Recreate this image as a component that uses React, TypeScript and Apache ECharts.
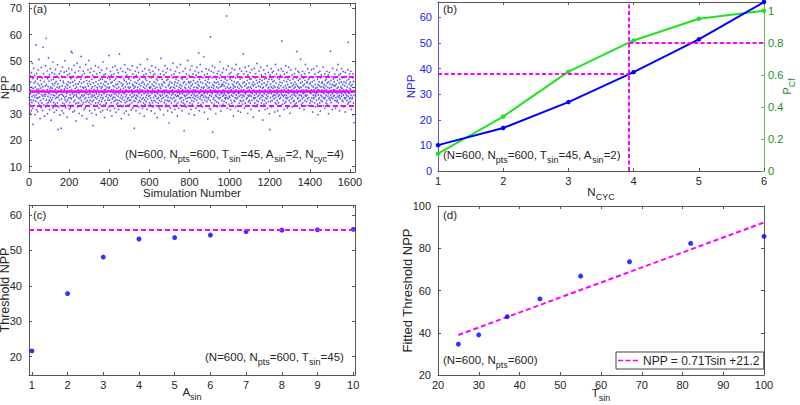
import { useEffect, useRef } from "react";
import * as echarts from "echarts";

// ---------- (a) NPP per simulation ----------
const simNpp1 = [
36.2,41.3,33.7,39.1,44.4,30.2,37.6,42.1,35.3,38.8,31.2,45.7,40.1,34.4,36.6,49.2,38.3,32.1,43.4,26.1,
39.6,35.2,47.3,37.1,41.7,33.2,38.4,44.6,36.3,29.7,40.2,42.3,34.8,38.7,56.1,37.2,45.3,31.6,39.3,35.9,
43.2,38.1,30.8,41.4,36.1,46.7,34.2,39.3,37.8,50.6,33.3,40.7,36.4,44.2,28.3,38.6,42.7,35.1,39.8,32.4,
47.6,37.3,41.2,34.1,38.9,43.6,31.3,36.8,40.3,55.2,35.7,39.1,45.2,33.4,37.3,42.2,29.1,38.2,44.1,36.7,
40.6,32.7,48.2,37.4,58.6,35.3,41.1,38.4,33.8,46.3,39.2,30.1,43.3,36.7,40.4,34.3,51.2,37.8,42.4,35.2,
38.1,44.8,31.7,39.4,36.2,47.1,34.7,40.2,37.3,27.6,42.8,38.7,35.4,45.6,33.1,39.7,41.3,36.1,49.7,32.3,
37.2,43.1,34.3,40.8,38.3,30.6,45.1,36.9,41.6,33.7,39.3,46.8,35.8,38.2,42.3,31.4,37.7,44.3,36.3,40.1,
34.2,48.6,38.4,41.3,24.1,36.3,43.7,32.6,39.8,37.1,45.2,35.3,40.4,29.6,38.8,42.6,33.2,46.1,37.4,24.6,
39.2,35.7,44.3,31.2,40.7,37.3,47.8,34.1,38.2,42.4,36.8,30.3,41.7,38.6,45.8,33.7,39.4,36.2,50.1,35.4,
40.3,43.8,32.2,38.3,36.7,46.2,34.6,41.2,37.7,28.7,39.7,44.7,35.3,40.8,33.2,42.1,38.4,47.2,36.1,31.8];
const simNpp2 = [
38.7,45.2,34.3,40.1,37.2,41.8,32.3,36.1,43.3,53.6,35.7,39.2,46.8,33.3,53.2,37.7,42.1,30.7,38.2,44.3,
36.4,40.7,34.6,48.3,37.1,31.2,42.7,38.1,35.2,45.7,39.6,33.8,41.2,27.3,37.4,43.7,36.8,40.2,34.1,49.2,
38.2,32.6,44.2,36.1,41.3,39.2,46.3,34.2,37.8,30.2,42.2,38.6,35.7,47.7,33.2,40.4,36.3,43.1,39.1,51.7,
35.1,41.6,37.2,29.3,44.7,38.3,33.6,40.1,36.7,46.2,34.3,39.8,42.1,31.7,37.2,45.3,35.6,38.1,43.8,32.2,
40.2,36.1,48.7,34.6,39.3,37.7,42.6,28.2,38.3,44.2,35.1,41.4,33.2,46.7,37.3,40.6,36.2,50.2,34.3,39.1,
42.3,31.2,37.6,45.7,35.2,38.7,41.2,33.7,47.2,36.3,39.6,30.3,43.1,37.2,34.7,40.3,44.6,36.7,25.6,38.1,
41.7,35.2,46.1,33.3,39.2,37.1,43.7,31.6,40.7,36.2,48.2,34.1,38.3,42.2,29.7,37.6,45.2,35.7,40.1,33.2,
39.3,44.1,36.6,41.2,34.2,47.6,38.1,32.2,42.7,37.3,35.1,40.4,45.7,33.6,38.7,43.2,30.7,36.2,41.6,39.7,
34.7,46.6,37.2,40.3,35.6,43.1,31.3,38.2,49.7,36.1,41.2,33.3,44.7,37.6,39.2,28.6,42.3,35.1,40.7,38.2,
45.1,33.7,39.3,36.6,42.2,34.1,47.2,37.3,40.1,31.7,43.6,38.7,35.2,41.3,36.1,44.2,32.6,39.7,52.1,37.2];
const simNpp3 = [
40.2,35.3,43.1,38.7,31.2,46.1,36.7,41.7,34.2,39.1,44.7,37.2,29.2,42.1,35.7,38.3,47.7,33.1,40.7,36.3,
39.2,45.1,34.7,37.6,42.7,32.1,40.3,36.2,48.1,35.2,38.1,43.2,30.6,41.1,37.3,44.1,33.7,39.6,35.3,46.7,
38.3,41.2,34.1,36.7,45.6,31.7,40.1,37.7,42.2,35.1,52.7,38.6,33.2,43.7,36.2,39.3,47.2,34.6,41.7,28.2,
37.1,44.2,35.6,40.7,32.7,38.2,46.1,36.3,41.2,33.1,39.7,43.3,37.6,30.2,42.6,35.2,48.6,38.1,34.2,40.3,
45.7,36.6,39.2,31.1,42.2,37.3,44.6,34.7,38.6,41.3,35.7,47.1,33.3,40.2,36.1,29.7,43.2,38.3,39.6,35.1,
41.6,33.7,46.6,37.2,40.1,35.3,42.7,38.6,31.6,44.2,36.3,39.1,34.2,48.2,37.7,41.1,32.2,45.1,36.6,40.7,
38.2,43.6,35.1,39.7,24.6,37.2,42.1,34.7,40.3,46.2,36.1,38.7,31.2,44.6,35.7,41.6,37.1,33.2,47.6,39.2,
36.7,40.1,34.3,42.7,38.1,45.7,32.7,37.7,41.2,35.1,43.2,30.2,39.3,36.2,48.7,34.6,40.7,38.2,44.1,33.2,
37.2,41.7,35.6,39.1,46.2,32.1,38.7,42.2,36.1,40.2,34.1,44.7,37.6,29.1,41.2,35.3,47.1,39.7,33.6,43.2,
38.1,36.2,45.2,34.7,40.6,37.1,42.7,31.7,39.2,50.7,35.6,41.2,37.7,44.2,33.1,38.6,36.7,46.6,40.1,34.2];
const simNpp4 = [
42.2,37.1,39.7,33.6,45.7,36.1,40.2,38.3,31.1,43.7,35.2,48.2,37.7,41.1,34.2,39.3,46.2,32.6,38.7,44.7,
36.2,40.6,35.1,42.2,38.1,30.2,45.2,37.1,39.7,34.6,47.6,36.7,41.6,33.1,43.2,38.2,40.1,35.7,28.6,42.7,
37.6,44.2,34.1,39.2,36.1,46.7,32.2,41.1,38.7,35.1,43.7,37.2,40.2,31.6,45.1,36.7,39.6,51.1,34.7,38.2,
41.2,35.7,43.1,37.2,33.1,40.7,46.2,38.1,36.2,42.1,29.7,39.1,44.7,34.2,37.7,41.7,35.1,48.2,38.6,32.7,
40.1,36.7,45.7,33.7,39.2,42.7,37.1,35.2,47.2,38.1,31.2,43.1,36.2,40.7,34.7,44.1,38.2,26.6,41.2,37.7,
35.1,42.2,39.7,32.2,46.7,36.1,40.2,38.7,34.1,44.6,37.2,41.7,30.6,39.1,35.7,43.7,37.6,49.2,33.1,40.1,
38.2,45.1,36.2,41.1,34.7,39.7,31.7,42.1,37.2,46.1,35.2,38.7,43.1,33.7,40.6,36.6,47.7,38.1,29.2,41.7,
37.1,34.2,44.1,39.2,36.7,42.6,32.1,40.2,38.1,45.6,35.7,37.6,41.1,33.2,48.7,36.1,39.7,43.6,34.7,38.6,
40.7,36.2,31.2,43.1,37.6,39.2,46.1,34.1,41.7,35.2,38.2,44.1,23.6,37.1,42.2,33.7,40.1,36.7,47.2,39.6,
35.7,41.1,38.1,32.6,45.1,37.2,43.2,34.7,39.1,36.1,50.2,38.7,33.1,42.1,37.6,40.2,30.1,44.6,36.2,41.7];
const simNpp5 = [
38.2,34.1,46.7,39.6,36.1,42.2,31.7,40.7,37.1,44.2,35.1,48.1,38.6,33.7,41.2,37.7,45.1,36.2,39.1,42.6,
34.7,40.1,37.2,29.6,43.7,38.1,35.7,46.2,39.1,41.7,36.7,32.2,44.6,38.2,40.1,35.2,47.7,37.1,33.1,42.2,
39.7,36.2,41.1,34.1,45.7,53.1,37.7,40.6,31.2,43.1,38.2,35.7,48.7,36.6,42.1,39.2,33.6,44.2,37.2,40.1,
35.2,46.1,38.7,32.7,41.6,37.1,43.7,34.2,39.7,36.2,51.6,40.2,37.7,30.6,44.7,38.1,35.2,42.7,36.7,39.1,
41.2,33.1,47.1,38.2,36.1,40.7,34.7,45.2,37.7,42.1,28.1,39.7,35.6,43.1,38.7,36.2,46.7,40.1,32.1,41.7,
37.1,44.2,35.1,39.2,59.1,31.7,38.1,46.2,36.7,40.1,34.2,43.7,37.7,48.2,23.1,41.1,38.7,35.6,45.7,39.7,
36.1,40.7,33.7,42.1,38.2,47.6,35.1,39.1,44.2,37.1,30.1,41.7,36.7,43.1,34.6,40.2,38.1,45.2,32.7,37.6,
42.1,36.2,39.7,34.1,46.2,38.7,41.2,35.7,43.6,37.2,49.7,33.1,40.2,36.1,44.7,38.2,31.1,42.7,37.7,40.6,
35.1,41.2,38.1,45.7,36.7,41.1,33.7,39.1,47.2,37.1,42.2,34.7,40.6,37.6,44.1,38.7,36.1,43.2,35.7,39.7,
41.7,37.1,34.2,46.7,67.1,36.2,42.7,32.1,40.2,38.1,44.2,35.7,48.1,37.7,41.2,33.7,39.6,36.7,45.1,38.2];
const simNpp6 = [
36.1,43.2,38.7,31.7,40.1,45.7,35.1,39.2,37.1,42.7,34.1,47.2,38.1,33.2,41.1,36.7,44.2,39.7,29.2,40.7,
37.7,35.1,42.2,38.1,46.7,34.6,40.2,36.1,43.7,32.7,39.1,48.7,37.2,41.6,35.7,38.6,44.7,33.1,40.2,36.2,
42.1,38.2,31.1,45.2,37.7,39.6,34.1,41.2,36.7,47.1,38.1,43.2,35.1,40.7,30.6,44.1,37.2,39.1,46.2,34.7,
40.1,36.2,43.7,38.6,33.7,41.7,37.2,52.7,35.1,39.2,45.1,36.7,42.1,32.2,38.1,40.6,47.7,34.1,37.6,44.2,
38.1,41.2,35.7,46.1,33.2,39.7,36.1,42.7,38.6,30.2,44.7,37.1,40.1,34.7,48.1,36.6,41.7,39.2,35.1,43.1,
37.2,45.7,34.1,40.2,38.1,31.7,43.2,36.7,39.6,46.7,35.2,41.1,37.7,33.1,44.2,38.6,42.1,28.7,40.7,36.1,
39.1,35.7,47.2,37.1,41.2,34.1,43.7,38.2,36.1,45.2,32.7,40.1,37.6,42.7,35.1,49.1,38.7,33.6,41.7,36.6,
44.1,38.2,34.7,40.6,37.1,46.2,31.2,39.1,42.2,35.7,43.1,37.7,40.2,33.1,47.7,36.2,38.6,44.7,34.1,41.2,
37.1,42.7,35.2,39.7,27.7,44.2,36.7,40.1,38.2,46.6,33.7,41.7,37.6,35.1,43.2,39.1,31.7,45.1,38.7,36.1,
40.7,34.1,43.6,37.2,41.1,35.7,48.2,38.1,32.1,42.2,36.6,39.7,45.7,34.7,40.1,37.7,43.1,30.1,38.7,24.1];
const simNpp7 = [
39.2,44.7,36.1,41.2,34.7,47.1,37.7,40.2,32.6,43.1,38.2,35.1,45.7,36.6,42.2,39.7,33.1,46.2,37.1,40.7,
35.7,42.6,38.1,30.7,44.2,37.2,40.1,34.1,48.7,36.2,41.7,38.7,33.7,45.1,37.6,39.2,35.1,43.7,31.2,40.2,
38.1,36.7,46.6,34.2,41.1,39.7,37.2,43.1,35.7,29.2,42.1,38.7,44.6,36.1,40.7,33.2,47.1,37.7,39.1,57.6,
41.7,37.1,44.1,33.7,38.6,46.2,35.1,40.1,36.7,42.6,31.7,39.2,45.1,37.2,34.1,43.7,38.2,40.7,36.1,48.2,
34.7,39.7,37.1,42.2,35.7,45.7,38.1,32.2,41.1,36.2,43.1,39.2,33.1,47.7,37.7,40.2,35.1,44.2,38.7,30.2,
42.7,36.6,40.1,34.2,46.7,38.2,41.7,35.6,39.1,37.2,44.7,32.7,40.6,36.1,43.2,38.7,38.1,34.7,41.1,37.6,
39.7,35.1,45.2,37.1,42.1,33.7,40.2,38.1,47.1,36.7,41.2,34.1,43.7,39.1,53.6,44.1,37.7,40.7,35.7,46.2,
38.2,42.7,36.1,40.1,34.7,45.7,37.1,39.7,32.1,43.2,38.7,35.1,41.7,50.7,37.2,40.1,33.7,44.7,36.7,39.1,
42.2,35.7,38.1,46.1,34.2,40.7,37.7,43.6,36.2,39.1,31.7,41.2,38.1,45.2,35.1,42.7,37.2,48.7,33.1,40.2,
36.7,44.1,39.2,34.7,41.7,37.1,42.2,35.7,47.1,38.7,40.1,33.2,43.1,36.1,39.7,45.6,43.7,38.1,41.2,34.1];
const simNpp8 = [
38.1,41.7,35.2,44.1,37.7,39.1,33.2,46.7,36.1,40.7,34.7,42.2,38.7,30.7,43.7,37.1,40.2,35.7,47.1,39.2,
36.2,42.7,38.1,34.2,45.1,37.2,41.1,32.7,39.7,36.7,44.2,38.1,35.2,48.1,37.7,40.1,33.7,43.1,39.2,29.7,
41.1,37.2,45.7,35.6,39.1,42.2,36.1,40.7,34.1,46.2,38.7,31.1,43.7,37.1,40.2,35.1,44.7,38.2,41.7,36.7,
39.1,34.7,42.1,38.2,47.7,36.1,40.2,33.1,44.2,37.7,41.1,35.7,39.7,45.1,32.1,38.7,42.7,36.2,40.7,34.1,
37.2,43.1,39.2,35.1,46.1,38.2,41.7,33.7,40.1,36.7,44.7,37.7,30.1,42.2,38.1,35.7,45.7,39.7,36.1,41.2,
38.7,35.2,53.7,37.1,42.7,34.2,40.1,36.2,44.1,38.2,31.7,41.1,37.7,47.2,35.7,39.1,43.2,36.7,40.7,33.1,
42.2,37.1,39.2,45.1,35.1,40.7,38.2,32.1,43.7,36.1,41.2,38.7,34.7,46.7,37.7,39.7,35.2,42.7,36.7,48.7,
40.1,34.2,38.1,44.7,36.2,41.7,37.1,31.2,43.1,39.2,35.7,45.2,38.1,40.2,33.1,42.1,36.7,47.1,37.7,39.7,
35.2,43.7,38.7,41.1,34.7,46.1,37.2,39.1,32.7,42.2,36.1,44.1,38.2,40.7,35.7,30.7,45.7,37.7,41.7,36.2,
39.2,44.1,37.1,42.7,35.1,40.2,38.7,33.7,46.7,36.7,57.1,38.1,34.2,43.1,37.7,41.2,35.7,45.1,39.7,36.1];
const simNpp9 = [42.1,34.7,39.2,46.1,37.1,40.7,31.7,44.1,38.2,35.7,41.1,36.2,43.7,29.7,45.1,38.7,34.1,42.2,37.1,26.7];
const simNpp = [...simNpp1, ...simNpp2, ...simNpp3, ...simNpp4, ...simNpp5, ...simNpp6, ...simNpp7, ...simNpp8, ...simNpp9];
const meanNpp = 38.5;
const upperNpp = 44.1;
const lowerNpp = 33.0;
const aTicksX = [0, 200, 400, 600, 800, 1000, 1200, 1400, 1600];
const aTicksY = [10, 20, 30, 40, 50, 60, 70];

// ---------- (b) NPP and P_Cf vs N_CYC ----------
const nCyc = [1, 2, 3, 4, 5, 6];
const nppVsCyc = [10.1, 16.8, 26.9, 38.6, 51.4, 66];
const pCf = [0.108, 0.34, 0.62, 0.815, 0.95, 1.0];
const thresholdCyc = 3.93;
const thresholdNpp = 37.8;
const thresholdP = 0.8;
const bTicksX = [1, 2, 3, 4, 5, 6];
const bTicksYLeft = [0, 10, 20, 30, 40, 50, 60];
const bTicksYRight = [0, 0.2, 0.4, 0.6, 0.8, 1];

// ---------- (c) Threshold NPP vs A_sin ----------
const aSin = [1, 2, 3, 4, 5, 6, 7, 8, 9, 10];
const thresholdVsA = [21.6, 37.8, 48.1, 53.2, 53.6, 54.3, 55.3, 55.7, 55.8, 55.9];
const plateauNpp = 55.9;
const cTicksX = [1, 2, 3, 4, 5, 6, 7, 8, 9, 10];
const cTicksY = [20, 30, 40, 50, 60];

// ---------- (d) Fitted threshold NPP vs T_sin ----------
const tSin = [25, 30, 37, 45, 55, 67, 82, 100];
const fittedVsT = [34.6, 39.0, 47.6, 56.0, 66.8, 73.6, 82.3, 85.6];
const fitT = [25, 100];
const fitNpp = [38.95, 92.2];
const fitLabel = "NPP = 0.71Tsin +21.2";
const dTicksX = [20, 30, 40, 50, 60, 70, 80, 90, 100];
const dTicksY = [20, 40, 60, 80, 100];

const FONT = "'Liberation Sans', Arial, Helvetica, sans-serif";
const AX = "#555555";
const LBL = "#262626";
const MAG = "#ff00ff";
const BLUE = "#0000ff";
const GREEN = "#22e022";
const DKGREEN = "#1a8c1a";

const subRich = (color: string) => ({
  s: { fontSize: 9, lineHeight: 8, verticalAlign: "bottom", fontFamily: FONT, color },
});

// names with subscripts need a taller line box
const nameStyle = (color: string, size = 11.5) => ({
  fontSize: size,
  fontFamily: FONT,
  color,
  lineHeight: 19,
  rich: subRich(color),
});

// plain names: compact line box
const plainName = (color: string, size = 11.5) => ({
  fontSize: size,
  fontFamily: FONT,
  color,
  lineHeight: size - 1,
});

const fmt = (v: number) => String(v);

function xAx(grid: number, min: number, max: number, ticks: number[], extra: any = {}) {
  return {
    type: "value",
    gridIndex: grid,
    min,
    max,
    position: "bottom",
    axisLine: { show: true, onZero: false, lineStyle: { color: AX, width: 1 } },
    axisTick: { show: true, inside: true, length: 3, customValues: ticks, lineStyle: { color: AX } },
    axisLabel: { show: true, customValues: ticks, margin: 4, color: LBL, fontSize: 11, fontFamily: FONT, formatter: fmt },
    splitLine: { show: false },
    nameLocation: "middle",
    nameMoveOverlap: false,
    nameTextStyle: nameStyle(LBL),
    ...extra,
  };
}

function xTop(grid: number, min: number, max: number, ticks: number[]) {
  return xAx(grid, min, max, ticks, { position: "top", axisLabel: { show: false } });
}

function yAx(grid: number, min: number, max: number, ticks: number[], extra: any = {}) {
  return {
    type: "value",
    gridIndex: grid,
    min,
    max,
    position: "left",
    axisLine: { show: true, onZero: false, lineStyle: { color: AX, width: 1 } },
    axisTick: { show: true, inside: true, length: 3, customValues: ticks, lineStyle: { color: AX } },
    axisLabel: { show: true, customValues: ticks, margin: 7, color: LBL, fontSize: 11, fontFamily: FONT, formatter: fmt },
    splitLine: { show: false },
    nameLocation: "middle",
    nameRotate: 90,
    nameMoveOverlap: false,
    nameTextStyle: plainName(LBL),
    ...extra,
  };
}

function yRight(grid: number, min: number, max: number, ticks: number[]) {
  return yAx(grid, min, max, ticks, { position: "right", axisLabel: { show: false } });
}

const dashed = (w = 2, dash: number[] = [5, 3]) => ({ color: MAG, width: w, type: dash });

const annot = (text: string, left: number, top: number) => ({
  type: "text",
  left,
  top,
  style: {
    text,
    fontSize: 11.5,
    fontFamily: FONT,
    fill: LBL,
    lineHeight: 19,
    rich: { s: { fontSize: 9, lineHeight: 8, verticalAlign: "bottom", fontFamily: FONT, fill: LBL } },
  },
});

export default function App() {
  const ref = useRef<HTMLDivElement>(null);

  useEffect(() => {
    if (!ref.current) return;
    const chart = echarts.init(ref.current, undefined, { renderer: "svg" });

    const option: any = {
      animation: false,
      backgroundColor: "#ffffff",
      textStyle: { fontFamily: FONT },
      grid: [
        { left: 29, top: 3, width: 326, height: 169, outerBoundsMode: "none" },
        { left: 438, top: 2, width: 326, height: 169, outerBoundsMode: "none" },
        { left: 29, top: 205, width: 326, height: 170, outerBoundsMode: "none" },
        { left: 438, top: 206, width: 326, height: 169, outerBoundsMode: "none" },
      ],
      xAxis: [
        xAx(0, 0, 1625, aTicksX, { name: "Simulation Number", nameGap: 11 }),
        xTop(0, 0, 1625, aTicksX),
        xAx(1, 1, 6, bTicksX, { name: "N{s|CYC}", nameGap: 11.5 }),
        xTop(1, 1, 6, bTicksX),
        xAx(2, 0.92, 10.05, cTicksX, { name: "A{s|sin}", nameGap: 7.5 }),
        xTop(2, 0.92, 10.05, cTicksX),
        xAx(3, 20, 100, dTicksX, { name: "T{s|sin}", nameGap: 8.5 }),
        xTop(3, 20, 100, dTicksX),
      ],
      yAxis: [
        yAx(0, 8, 72, aTicksY, { name: "NPP", nameGap: 19 }),
        yRight(0, 8, 72, aTicksY),
        yAx(1, 0, 66, bTicksYLeft, {
          name: "NPP",
          nameGap: 21.5,
          nameTextStyle: plainName("#2222ee"),
          axisLine: { show: true, onZero: false, lineStyle: { color: "#5555dd", width: 1 } },
          axisTick: { show: true, inside: true, length: 3, customValues: bTicksYLeft, lineStyle: { color: "#5555dd" } },
          axisLabel: { show: true, customValues: bTicksYLeft, margin: 6, color: "#2222ee", fontSize: 11, fontFamily: FONT, formatter: fmt },
        }),
        yAx(1, 0, 1.055, bTicksYRight, {
          position: "right",
          name: "P{s|Cf}",
          nameGap: 13,
          nameTextStyle: nameStyle(DKGREEN),
          axisLine: { show: true, onZero: false, lineStyle: { color: "#66bb66", width: 1 } },
          axisTick: { show: true, inside: true, length: 3, customValues: bTicksYRight, lineStyle: { color: "#66bb66" } },
          axisLabel: { show: true, customValues: bTicksYRight, margin: 4, color: DKGREEN, fontSize: 11, fontFamily: FONT, formatter: fmt },
        }),
        yAx(2, 14.8, 62.8, cTicksY, { name: "Threshold NPP", nameGap: 18.5, nameTextStyle: plainName(LBL, 12.5) }),
        yRight(2, 14.8, 62.8, cTicksY),
        yAx(3, 20, 100, dTicksY, { name: "Fitted Threshold NPP", nameGap: 24.5, nameTextStyle: plainName(LBL, 13) }),
        yRight(3, 20, 100, dTicksY),
      ],
      legend: {
        show: true,
        data: [fitLabel],
        left: 616,
        top: 352,
        orient: "horizontal",
        padding: [2, 4, 2, 2],
        icon: "path://M0 0H6V2H0Z M8.5 0H14.5V2H8.5Z M17 0H23V2H17Z",
        itemWidth: 20,
        itemHeight: 2,
        itemGap: 0,
        itemStyle: { color: MAG },
        borderColor: "#444444",
        borderWidth: 1,
        backgroundColor: "#ffffff",
        textStyle: { fontSize: 12, fontFamily: FONT, color: LBL, lineHeight: 13 },
      },
      series: [
        {
          type: "scatter",
          xAxisIndex: 0,
          yAxisIndex: 0,
          data: simNpp.map((v, i) => [i + 1, v]),
          symbol: "circle",
          symbolSize: 1.7,
          itemStyle: { color: "#3030ff", opacity: 0.8 },
          silent: true,
          markLine: {
            silent: true,
            symbol: "none",
            label: { show: false },
            lineStyle: dashed(2),
            data: [
              { yAxis: upperNpp },
              { yAxis: lowerNpp },
              { yAxis: meanNpp, lineStyle: { color: MAG, width: 2.5, type: "solid" } },
            ],
          },
        },
        {
          type: "line",
          xAxisIndex: 2,
          yAxisIndex: 2,
          data: nCyc.map((c, i) => [c, nppVsCyc[i]]),
          symbol: "circle",
          symbolSize: 4.5,
          itemStyle: { color: BLUE },
          lineStyle: { color: BLUE, width: 2 },
          z: 3,
          markLine: {
            silent: true,
            symbol: "none",
            label: { show: false },
            lineStyle: dashed(2, [4, 2.5]),
            data: [
              [{ coord: [thresholdCyc, 0] }, { coord: [thresholdCyc, 66] }],
              [{ coord: [1, thresholdNpp] }, { coord: [thresholdCyc, thresholdNpp] }],
            ],
          },
        },
        {
          type: "line",
          xAxisIndex: 2,
          yAxisIndex: 3,
          data: nCyc.map((c, i) => [c, pCf[i]]),
          symbol: "circle",
          symbolSize: 4.5,
          itemStyle: { color: GREEN },
          lineStyle: { color: GREEN, width: 2 },
          z: 2,
          markLine: {
            silent: true,
            symbol: "none",
            label: { show: false },
            lineStyle: dashed(2, [4, 2.5]),
            data: [[{ coord: [thresholdCyc, thresholdP] }, { coord: [6, thresholdP] }]],
          },
        },
        {
          type: "scatter",
          xAxisIndex: 4,
          yAxisIndex: 4,
          data: aSin.map((a, i) => [a, thresholdVsA[i]]),
          symbol: "circle",
          symbolSize: 5,
          itemStyle: { color: BLUE },
          markLine: {
            silent: true,
            symbol: "none",
            label: { show: false },
            lineStyle: dashed(2),
            data: [{ yAxis: plateauNpp }],
          },
        },
        {
          type: "line",
          name: fitLabel,
          xAxisIndex: 6,
          yAxisIndex: 6,
          data: fitT.map((t, i) => [t, fitNpp[i]]),
          symbol: "none",
          showSymbol: false,
          lineStyle: { color: MAG, width: 2, type: [5, 3] },
          itemStyle: { color: MAG },
        },
        {
          type: "scatter",
          xAxisIndex: 6,
          yAxisIndex: 6,
          data: tSin.map((t, i) => [t, fittedVsT[i]]),
          symbol: "circle",
          symbolSize: 5,
          itemStyle: { color: BLUE },
          z: 4,
        },
      ],
      graphic: [
        { type: "text", left: 33, top: 3, style: { text: "(a)", fontSize: 11.5, fontFamily: FONT, fill: LBL } },
        { type: "text", left: 443, top: 3, style: { text: "(b)", fontSize: 11.5, fontFamily: FONT, fill: LBL } },
        { type: "text", left: 33, top: 209, style: { text: "(c)", fontSize: 11.5, fontFamily: FONT, fill: LBL } },
        { type: "text", left: 443, top: 209, style: { text: "(d)", fontSize: 11.5, fontFamily: FONT, fill: LBL } },
        annot("(N=600, N{s|pts}=600, T{s|sin}=45, A{s|sin}=2, N{s|cyc}=4)", 125, 144),
        annot("(N=600, N{s|pts}=600, T{s|sin}=45, A{s|sin}=2)", 443, 145),
        annot("(N=600, N{s|pts}=600, T{s|sin}=45)", 205, 347),
        annot("(N=600, N{s|pts}=600)", 443, 350),
      ],
    };

    chart.setOption(option);
    return () => {
      chart.dispose();
    };
  }, []);

  return (
    <div
      ref={ref}
      style={{ position: "fixed", left: 0, top: 0, width: 800, height: 405, background: "#ffffff" }}
    />
  );
}
